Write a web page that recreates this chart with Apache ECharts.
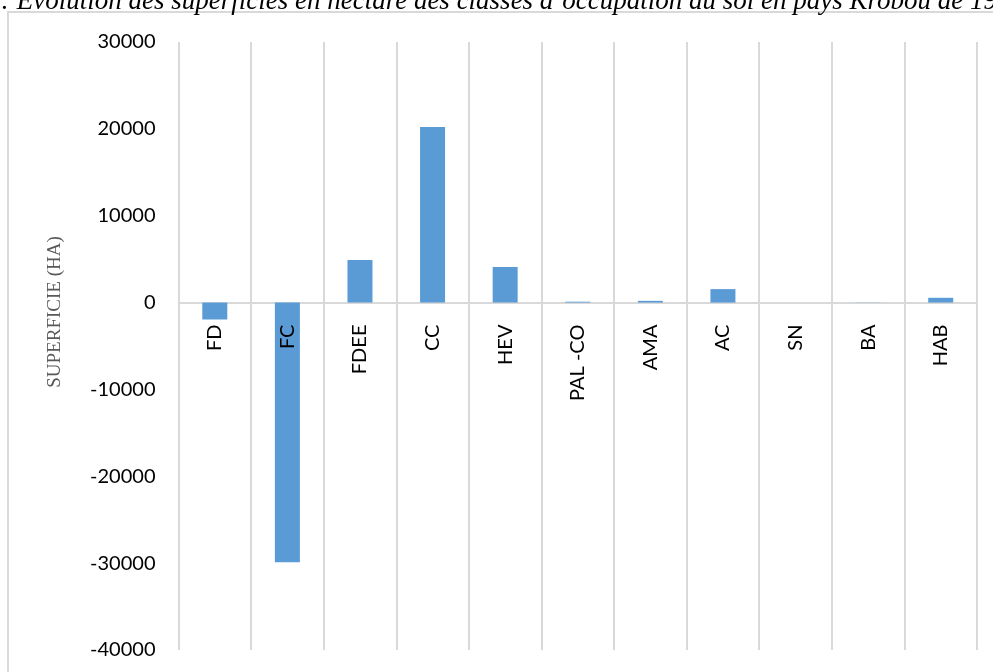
<!DOCTYPE html>
<html>
<head>
<meta charset="utf-8">
<script src="https://cdn.jsdelivr.net/npm/echarts@6/dist/echarts.min.js"></script>
<style>html,body{margin:0;padding:0;background:#fff}#c{width:993px;height:672px}</style>
</head>
<body>
<div id="c"></div>
<script>
const categories = ['FD', 'FC', 'FDEE', 'CC', 'HEV', 'PAL -CO', 'AMA', 'AC', 'SN', 'BA', 'HAB'];
const superficie = [-1950, -29900, 4900, 20200, 4100, 100, 200, 1550, 0, -20, 550];
const yMin = -40000, yMax = 30000, yStep = 10000;
const titleText = ': Évolution des superficies en hectare des classes d’occupation du sol en pays Krobou de 1986 à 2020';
const yAxisTitle = 'SUPERFICIE (HA)';

const gridTop = 42, gridBottom = 22, H = 672;
const chart = echarts.init(document.getElementById('c'), null, {renderer: 'canvas'});
chart.setOption({
  animation: false,
  backgroundColor: '#fff',
  grid: {left: 178.5, right: 16, top: gridTop, bottom: gridBottom, containLabel: false, outerBoundsMode: 'none'},
  xAxis: [{
    type: 'category',
    data: categories,
    boundaryGap: true,
    axisLine: {show: true, onZero: true, lineStyle: {color: '#D9D9D9', width: 2}},
    axisTick: {show: false},
    splitLine: {show: true, lineStyle: {color: '#D9D9D9', width: 2}},
    axisLabel: {show: false}
  }, {
    type: 'category',
    data: categories,
    boundaryGap: true,
    position: 'bottom',
    offset: 0,
    z: 10,
    axisLine: {show: false, onZero: false},
    axisTick: {show: false},
    splitLine: {show: false},
    axisLabel: {rotate: 90, margin: 22, fontFamily: 'Lato', fontSize: 20, color: '#000', interval: 0}
  }],
  yAxis: {
    type: 'value',
    min: yMin, max: yMax, interval: yStep,
    axisLine: {show: false},
    axisTick: {show: false},
    splitLine: {show: false},
    axisLabel: {margin: 23, fontFamily: 'Lato', fontSize: 20, color: '#000', formatter: v => String(v)}
  },
  series: [{
    type: 'bar',
    data: superficie,
    xAxisIndex: 0,
    barWidth: 25,
    z: 2,
    itemStyle: {color: '#5B9BD5'}
  }],
  graphic: [
    {type: 'rect', silent: true, z: -1, shape: {x: 8, y: 12, width: 1000, height: 700},
     style: {fill: 'none', stroke: '#D9D9D9', lineWidth: 2}},
    {type: 'text', silent: true, x: 1, y: 15,
     style: {text: titleText, font: 'italic 27px "Liberation Serif"', fill: '#000', textAlign: 'left', textVerticalAlign: 'bottom'}},
    {type: 'text', silent: true, x: 55, y: 312, rotation: Math.PI / 2,
     style: {text: yAxisTitle, font: '19px "Liberation Serif"', fill: '#595959', textAlign: 'center', textVerticalAlign: 'middle'}}
  ]
});
// move the label axis up to the zero line, using the library's own scale
const zeroY = chart.convertToPixel({yAxisIndex: 0}, 0);
chart.setOption({xAxis: [{}, {offset: -((H - gridBottom) - zeroY)}]});
</script>
</body>
</html>
